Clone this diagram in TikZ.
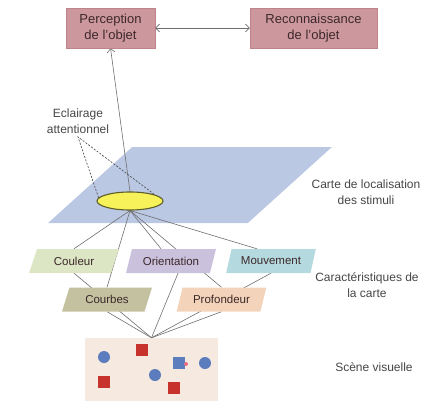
\documentclass[tikz,border=0pt]{standalone}
\usepackage{fontspec}
\setmainfont{Liberation Sans}
\usepackage{tikz}
\usetikzlibrary{positioning, shapes.geometric, arrows.meta, backgrounds}
\definecolor{boxrose}{RGB}{205,152,157}
\definecolor{boxedge}{RGB}{190,132,138}
\definecolor{boxtext}{RGB}{60,40,42}
\definecolor{mapblue}{RGB}{187,200,227}
\definecolor{spotfill}{RGB}{247,242,90}
\definecolor{spotedge}{RGB}{95,95,40}
\definecolor{linegray}{RGB}{110,110,110}
\definecolor{notegray}{RGB}{70,70,70}
\definecolor{fcouleur}{RGB}{220,230,196}
\definecolor{forient}{RGB}{202,193,220}
\definecolor{fmouv}{RGB}{180,217,223}
\definecolor{fcourbe}{RGB}{196,193,160}
\definecolor{fprof}{RGB}{243,212,186}
\definecolor{scenebg}{RGB}{246,233,223}
\definecolor{dotblue}{RGB}{91,125,190}
\definecolor{sqred}{RGB}{200,50,44}
\definecolor{dotpink}{RGB}{235,110,130}
\tikzset{
x=1pt, y=-1pt, % pixel units, y goes down
>={Straight Barb[length=4pt,width=8pt]}, % open arrow heads
link/.style={draw=linegray, line width=0.6pt}, % every connector
box/.style={rectangle, fill=boxrose, draw=boxedge, minimum height=40pt, align=center, text=boxtext, font=\fontsize{13}{16}\selectfont},
feature/.style={trapezium, trapezium left angle=63, trapezium right angle=117, trapezium stretches=true, minimum width=90pt, minimum height=24pt, inner sep=0pt, text=boxtext, font=\fontsize{11.5}{13}\selectfont},
spot/.style={ellipse, minimum width=66pt, minimum height=18pt, inner sep=0pt, fill=spotfill, draw=spotedge, line width=1.1pt},
note/.style={align=center, text=notegray, font=\fontsize{12}{16}\selectfont},
}

\begin{document}
\begin{tikzpicture}
    \useasboundingbox (0,0) rectangle (423,410);
    % location map, behind everything
    \begin{scope}[on background layer]
        \node[trapezium, trapezium left angle=54, trapezium right angle=126, trapezium stretches=true, minimum width=284pt, minimum height=76pt, fill=mapblue] (map) at (190,185) {};
    \end{scope}

    \node[box, minimum width=89pt] (perc) at (110.5,28) {Perception\\de l’objet};
    \node[box, minimum width=127pt, right of=perc, node distance=203pt] (reco) {Reconnaissance\\de l’objet};

    \node[spot] (spot) at (130,201) {};
    \node[note] (eclair) at (78,121) {Eclairage\\attentionnel};

    \node[feature, fill=fcouleur] (coul) at (74,261) {Couleur};
    \node[feature, fill=forient] (ori) at (171,261) {Orientation};
    \node[feature, fill=fmouv] (mouv) at (271,261) {Mouvement};
    \node[feature, fill=fcourbe] (courb) at (107,299.5) {Courbes};
    \node[feature, fill=fprof] (prof) at (221.5,299.5) {Profondeur};

    \node[fill=scenebg, minimum width=133pt, minimum height=63pt, inner sep=0pt] (scene) at (151.5,369.5) {};
    % objects in the scene
    \foreach \cx/\cy in {104/357, 205/363, 155/375}
        \fill[dotblue] (\cx,\cy) circle (6pt);
    \foreach \sx/\sy in {142/350, 104/382, 174/388}
        \fill[sqred] (\sx-6,\sy-6) rectangle ++(12,12);
    \fill[dotblue] (173,357) rectangle ++(12,12);
    \fill[dotpink] (186,364) circle (2pt);

    \node[note] (carte) at (366,192) {Carte de localisation\\des stimuli};
    \node[note] (carac) at (367,285) {Caractéristiques de\\la carte};
    \node[note] (scenelab) at (374,367) {Scène visuelle};

    \begin{scope}[on background layer]
        \draw[link, ->] (spot.north) -- (perc.south);
        \draw[link, draw=black!75, dash pattern=on 2pt off 1.5pt] (spot.174) -- (eclair.south) -- (spot.15);
        \foreach \t in {coul.north, courb.north, prof.north}
            \draw[link] (spot.south) -- (\t);
        \draw[link] (spot.south) -- ([xshift=-10pt]ori.north);
        \draw[link] (spot.south) -- ([xshift=-14pt]mouv.north);
        \foreach \t in {coul.south, courb.south, prof.south, mouv.south}
            \draw[link] (scene.north) -- (\t);
        \draw[link] (scene.north) -- ([xshift=7pt]ori.south);
    \end{scope}
    \draw[link, <->] (perc) -- (reco);
\end{tikzpicture}
\end{document}
